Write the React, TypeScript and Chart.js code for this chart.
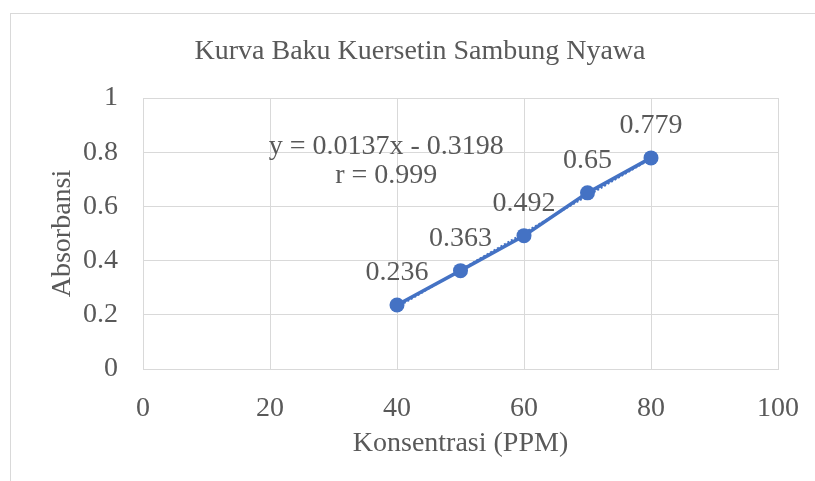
import React, { useEffect, useRef } from "react";
import { Chart, registerables } from "chart.js";

Chart.register(...registerables);

const chartTitle = "Kurva Baku Kuersetin Sambung Nyawa";
const xAxisTitle = "Konsentrasi (PPM)";
const yAxisTitle = "Absorbansi";
const concentrations = [40, 50, 60, 70, 80];
const absorbances = [0.236, 0.363, 0.492, 0.65, 0.779];
const pointLabels = ["0.236", "0.363", "0.492", "0.65", "0.779"];
const slope = 0.0137;
const intercept = -0.3198;
const equationLines = ["y = 0.0137x - 0.3198", "r = 0.999"];
const equationAnchor = { x: 38.3, y: 0.822 };
const xTicks = [0, 20, 40, 60, 80, 100];
const yTicks = [0, 0.2, 0.4, 0.6, 0.8, 1];

const BLUE = "#4472C4";
const TEXT = "#595959";
const GRID = "#d9d9d9";
const FONT = "'Liberation Serif', 'Times New Roman', serif";
const FS = 28;

export default function App() {
  const ref = useRef<HTMLCanvasElement | null>(null);

  useEffect(() => {
    if (!ref.current) return;
    const trendX = [concentrations[0], concentrations[concentrations.length - 1]];
    const decorations = {
      id: "decorations",
      beforeDraw(chart: any) {
        const ctx = chart.ctx;
        ctx.save();
        ctx.fillStyle = "#ffffff";
        ctx.fillRect(0, 0, chart.width, chart.height);
        ctx.strokeStyle = GRID;
        ctx.lineWidth = 1;
        ctx.strokeRect(10.5, 13.5, 1000, 1000);
        ctx.fillStyle = TEXT;
        ctx.font = `${FS}px ${FONT}`;
        ctx.textAlign = "center";
        ctx.textBaseline = "middle";
        ctx.fillText(chartTitle, 420, 52);
        ctx.restore();
      },
      afterDatasetsDraw(chart: any) {
        const ctx = chart.ctx;
        const xs = chart.scales.x;
        const ys = chart.scales.y;
        ctx.save();
        ctx.fillStyle = TEXT;
        ctx.font = `${FS}px ${FONT}`;
        ctx.textAlign = "center";
        ctx.textBaseline = "middle";
        const meta = chart.getDatasetMeta(0);
        meta.data.forEach((el: any, i: number) => {
          ctx.fillText(pointLabels[i], el.x, el.y - 32);
        });
        const ex = xs.getPixelForValue(equationAnchor.x);
        const ey = ys.getPixelForValue(equationAnchor.y);
        equationLines.forEach((line, i) => {
          ctx.fillText(line, ex, ey + i * 29);
        });
        ctx.restore();
      },
    };

    const chart = new Chart(ref.current, {
      type: "scatter",
      data: {
        datasets: [
          {
            label: "Absorbansi",
            data: concentrations.map((x, i) => ({ x, y: absorbances[i] })),
            showLine: true,
            borderColor: BLUE,
            backgroundColor: BLUE,
            borderWidth: 3.5,
            pointRadius: 7.5,
            pointBackgroundColor: BLUE,
            pointBorderWidth: 0,
            order: 1,
          },
          {
            label: "Linear",
            data: trendX.map((x) => ({ x, y: slope * x + intercept })),
            showLine: true,
            borderColor: BLUE,
            borderWidth: 2,
            borderDash: [2, 2],
            pointRadius: 0,
            order: 2,
          },
        ],
      },
      options: {
        animation: false,
        responsive: false,
        maintainAspectRatio: false,
        layout: { padding: { left: 0, right: 37, top: 98, bottom: 0 } },
        plugins: {
          legend: { display: false },
          title: { display: false },
          tooltip: { enabled: false },
        },
        scales: {
          x: {
            type: "linear",
            min: 0,
            max: 100,
            afterBuildTicks: (s: any) => {
              s.ticks = xTicks.map((v) => ({ value: v }));
            },
            afterFit: (s: any) => {
              s.height = 112;
              s.paddingLeft = 0;
              s.paddingRight = 0;
            },
            ticks: {
              color: TEXT,
              font: { family: FONT, size: FS },
              padding: 23,
            },
            grid: { color: GRID, lineWidth: 1, drawTicks: false },
            border: { color: GRID, width: 1 },
            title: {
              display: true,
              text: xAxisTitle,
              color: TEXT,
              font: { family: FONT, size: FS },
              padding: { top: 0, bottom: 21 },
            },
          },
          y: {
            type: "linear",
            min: 0,
            max: 1,
            afterBuildTicks: (s: any) => {
              s.ticks = yTicks.map((v) => ({ value: v }));
            },
            afterFit: (s: any) => {
              s.width = 143;
              s.paddingTop = 0;
              s.paddingBottom = 0;
            },
            ticks: {
              color: TEXT,
              font: { family: FONT, size: FS },
              padding: 25,
              callback: (v: any) => String(Math.round(Number(v) * 10) / 10),
            },
            grid: { color: GRID, lineWidth: 1, drawTicks: false },
            border: { color: GRID, width: 1 },
            title: {
              display: true,
              text: yAxisTitle,
              color: TEXT,
              font: { family: FONT, size: FS },
              padding: { top: 46, bottom: 0 },
            },
          },
        },
      },
      plugins: [decorations],
    } as any);
    return () => chart.destroy();
  }, []);

  return (
    <div style={{ position: "fixed", left: 0, top: 0, width: 815, height: 481, background: "#fff" }}>
      <canvas ref={ref} width={815} height={481} style={{ width: 815, height: 481, display: "block" }} />
    </div>
  );
}
